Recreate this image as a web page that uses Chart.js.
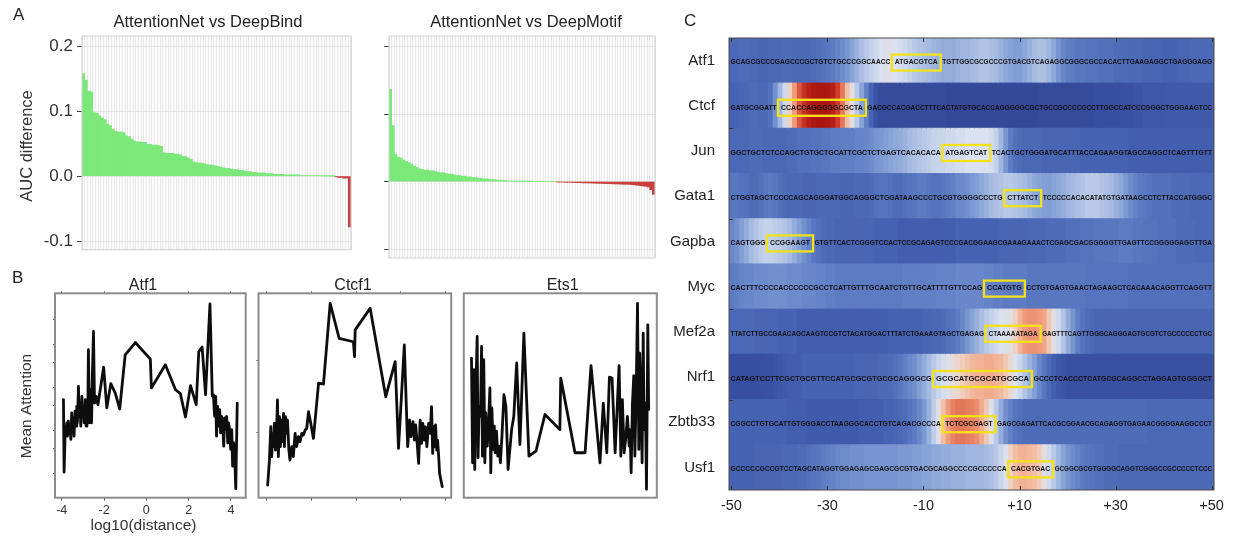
<!DOCTYPE html>
<html><head><meta charset="utf-8">
<script src="https://cdn.jsdelivr.net/npm/chart.js@4.4.1/dist/chart.umd.min.js"></script>
<style>
html,body{margin:0;padding:0;background:#fff;}
body{width:1234px;height:539px;position:relative;overflow:hidden;}
canvas{position:absolute;}
</style></head><body>
<canvas id="a1" width="360" height="264" style="left:0;top:0;width:360px;height:264px"></canvas>
<canvas id="a2" width="290" height="264" style="left:370px;top:0;width:290px;height:264px"></canvas>
<canvas id="b1" width="252" height="269" style="left:0;top:270px;width:252px;height:269px"></canvas>
<canvas id="b2" width="206" height="269" style="left:252px;top:270px;width:206px;height:269px"></canvas>
<canvas id="b3" width="210" height="269" style="left:458px;top:270px;width:210px;height:269px"></canvas>
<canvas id="c1" width="574" height="539" style="left:660px;top:0;width:574px;height:539px"></canvas>
<script>
// ---------------- DATA ----------------
// Panel A: AUC differences, sorted
const deepBindDiff = [0.158,0.148,0.131,0.130,0.098,0.097,0.093,0.090,0.087,0.080,
 0.078,0.072,0.069,0.068,0.068,0.067,0.062,0.061,0.057,0.054,
 0.053,0.053,0.052,0.052,0.049,0.049,0.048,0.048,0.047,0.046,
 0.036,0.035,0.035,0.035,0.034,0.034,0.033,0.030,0.030,0.028,
 0.026,0.022,0.021,0.020,0.020,0.019,0.018,0.017,0.017,0.016,
 0.015,0.014,0.013,0.012,0.012,0.011,0.010,0.010,0.009,0.009,
 0.008,0.007,0.007,0.006,0.006,0.005,0.005,0.005,0.004,0.004,
 0.004,0.003,0.003,0.003,0.003,0.002,0.002,0.002,0.002,0.002,
 0.002,0.001,0.001,0.001,0.001,0.001,0.001,0.001,0.0008,0.0006,
 0.0005,0.0004,0.0002,0.0001,-0.001,-0.002,-0.002,-0.003,-0.003,-0.078];
const deepMotifDiff = [0.137,0.083,0.040,0.036,0.035,0.032,0.030,0.028,0.026,0.023,
 0.021,0.019,0.018,0.017,0.017,0.016,0.016,0.015,0.014,0.013,
 0.013,0.012,0.011,0.011,0.010,0.009,0.009,0.008,0.008,0.007,
 0.007,0.006,0.006,0.005,0.005,0.004,0.004,0.0035,0.003,0.003,
 0.0025,0.002,0.002,0.0015,0.001,0.001,0.0008,0.0006,0.0004,0.0002,
 0.0001,0.0001,0.0001,0.0001,0,0,0,0,0,0,
 0,0,0,-0.0005,-0.0006,-0.0008,-0.001,-0.001,-0.0012,-0.0014,
 -0.0015,-0.0016,-0.0018,-0.002,-0.002,-0.002,-0.0022,-0.0024,-0.0025,-0.0026,
 -0.0028,-0.003,-0.003,-0.0032,-0.0034,-0.0035,-0.0036,-0.0038,-0.004,-0.004,
 -0.0042,-0.0045,-0.005,-0.0055,-0.006,-0.0065,-0.007,-0.008,-0.012,-0.019];
const aTicks = [-0.1, 0, 0.1, 0.2];

// Panel B: mean attention vs log10(distance)
const atf1X = [-3.92,-3.89,-3.84,-3.80,-3.76,-3.73,-3.69,-3.64,-3.61,-3.57,
 -3.53,-3.50,-3.45,-3.42,-3.37,-3.32,-3.29,-3.26,-3.21,-3.18,
 -3.13,-3.10,-3.05,-3.02,-2.97,-2.94,-2.89,-2.85,-2.81,-2.77,
 -2.74,-2.69,-2.64,-2.59,-2.55,-2.50,-2.45,-2.37,-2.29,-2.18,
 -2.02,-1.87,-1.68,-1.47,-1.26,-1.00,-0.52,0.19,0.24,0.90,
 1.38,1.61,1.85,2.09,2.36,2.48,2.64,2.80,3.01,3.12,
 3.17,3.23,3.28,3.32,3.37,3.42,3.47,3.51,3.56,3.61,
 3.66,3.70,3.75,3.80,3.85,3.89,3.94,3.99,4.04,4.08,
 4.13,4.18,4.23,4.30];
const atf1Y = [48.0,12.5,31.7,33.3,36.6,30.1,37.4,31.7,35.0,28.5,
 41.5,33.3,39.0,30.1,42.3,35.0,44.7,36.6,54.5,39.8,
 44.7,35.0,49.6,39.8,43.1,36.6,48.0,35.0,45.5,39.8,
 72.4,36.6,52.8,36.6,61.0,81.3,46.3,49.6,45.5,52.8,
 63.9,43.9,55.8,51.2,43.4,69.9,75.9,67.8,53.7,65.0,
 52.8,50.9,39.5,54.8,45.5,71.5,73.7,50.4,94.8,49.6,
 50.4,39.8,49.6,30.1,44.7,35.0,43.1,31.7,39.8,36.6,
 25.2,39.0,33.3,39.8,26.8,36.6,33.3,23.6,33.3,15.4,
 26.8,20.3,4.4,46.3];
const ctcf1X = [-3.96,-3.88,-3.82,-3.78,-3.73,-3.70,-3.66,-3.61,-3.57,-3.52,
 -3.48,-3.43,-3.39,-3.34,-3.30,-3.25,-3.21,-3.16,-3.12,-3.07,
 -3.01,-2.96,-2.88,-2.81,-2.73,-2.66,-2.58,-2.51,-2.43,-2.36,
 -2.28,-2.21,-2.13,-2.03,-1.91,-1.68,-1.46,-1.16,-0.76,-0.12,
 -0.07,-0.04,0.63,1.33,1.75,1.90,2.16,2.31,2.40,2.46,
 2.55,2.61,2.67,2.73,2.80,2.87,2.93,2.99,3.05,3.11,
 3.17,3.25,3.32,3.38,3.43,3.47,3.52,3.56,3.61,3.65,
 3.70,3.74,3.80,3.86];
const ctcf1Y = [6.2,18.4,34.7,20.1,31.5,25.0,36.4,23.3,28.2,47.8,
 20.1,39.6,25.0,38.0,27.4,41.3,25.0,39.6,31.5,38.0,
 23.3,18.4,25.0,20.1,31.5,25.0,29.9,27.4,31.5,30.7,
 33.1,33.9,42.1,36.4,29.0,56.0,55.6,95.1,78.0,76.3,
 69.0,82.1,92.7,49.4,66.6,24.1,74.7,25.0,38.0,29.9,
 37.2,28.2,35.6,27.4,16.8,38.0,26.6,36.4,28.2,34.7,
 25.0,36.4,31.5,44.5,21.7,34.7,25.0,35.6,23.3,28.2,
 20.1,11.9,8.6,5.4];
const ets1X = [-4.05,-4.00,-3.94,-3.90,-3.85,-3.79,-3.75,-3.70,-3.64,-3.59,
 -3.55,-3.49,-3.44,-3.40,-3.33,-3.27,-3.21,-3.17,-3.12,-3.06,
 -3.01,-2.97,-2.91,-2.85,-2.79,-2.73,-2.66,-2.57,-2.48,-2.38,
 -2.22,-2.12,-1.99,-1.84,-1.66,-1.43,-1.11,-0.70,-0.02,0.02,
 0.67,1.13,1.40,1.81,1.96,2.12,2.24,2.36,2.50,2.68,
 2.76,2.83,2.91,2.98,3.06,3.14,3.18,3.23,3.29,3.35,
 3.40,3.46,3.52,3.58,3.62,3.68,3.73,3.78,3.82,3.88,
 3.93,3.99,4.03];
const ets1Y = [68.3,17.1,62.6,13.8,52.8,78.9,19.5,44.7,39.8,74.0,
 20.3,67.5,17.1,41.5,25.2,36.6,53.7,12.2,43.9,23.6,
 35.0,22.0,32.5,20.3,25.2,17.1,30.1,50.4,44.7,13.8,
 33.3,39.8,65.9,26.0,80.5,20.3,22.8,40.7,33.3,58.5,
 22.0,22.0,64.6,17.1,46.3,22.0,59.0,58.5,22.0,64.6,
 20.3,48.0,22.0,28.5,39.8,25.2,33.3,12.2,46.3,59.7,
 20.3,51.2,95.1,23.6,70.7,48.0,17.1,80.5,33.3,46.3,
 4.1,84.6,43.1];
const bTicks = [-4, -2, 0, 2, 4];

// Panel C: attention per position (-50..+50), scale 0-100
const heatRowLabels = ['Atf1','Ctcf','Jun','Gata1','Gapba','Myc','Mef2a','Nrf1','Zbtb33','Usf1'];
const heatTicks = [-50, -30, -10, 10, 30, 50];
const atf1Att = [22,22,23,23,22,22,21,21,22,22, 22,23,23,22,22,22,22,23,24,25, 26,27,29,31,33,36,39,42,44,46, 48,50,51,51,50,49,48,46,44,43, 42,41,40,39,38,38,38,39,40,40, 41,42,43,43,42,41,39,37,36,35, 35,37,39,41,42,42,40,37,33,30, 28,27,26,26,25,25,25,24,24,24, 23,23,23,22,22,22,21,21,21,21, 20,20,20,21,21,21,22,22,22,22,22];
const ctcfAtt = [20,20,21,22,23,23,22,22,24,32, 40,48,56,66,78,88,95,98,99,99, 98,95,85,72,60,52,44,36,28,20, 15,13,13,13,13,13,13,13,13,13, 13,13,13,13,13,12,12,12,12,12, 12,12,12,12,12,12,12,12,12,12, 12,12,12,12,13,13,13,13,13,13, 13,13,13,13,13,13,14,14,14,14, 14,14,15,15,16,16,17,17,17,17, 17,18,18,18,18,18,18,18,18,18,18];
const junAtt = [22,22,22,22,23,23,23,22,22,22, 22,22,23,23,24,24,24,25,25,26, 26,27,27,28,28,28,29,29,30,31, 33,34,35,36,37,38,39,41,42,43, 44,45,46,47,47,48,48,49,49,50, 50,50,50,50,49,46,40,33,27,24, 23,22,22,22,22,21,21,21,21,21, 21,21,21,20,20,20,20,20,20,20, 20,20,20,19,19,19,19,19,19,19, 19,19,19,19,19,19,19,19,19,19,19];
const gata1Att = [26,26,25,24,23,23,24,26,27,26, 24,23,22,22,22,21,21,21,22,22, 22,22,22,21,21,21,22,22,22,23, 24,25,25,24,23,23,24,25,26,27, 27,26,25,25,26,27,28,30,31,32, 34,35,37,39,41,42,43,44,44,43, 42,41,39,37,36,35,35,36,37,38, 40,41,42,43,44,44,44,43,42,41, 39,37,34,31,29,27,26,25,24,24, 24,24,23,23,23,23,22,22,22,22,22];
const gapbaAtt = [30,32,35,38,41,43,45,46,46,45, 44,43,41,38,35,32,29,26,24,23, 22,22,21,21,21,21,21,21,21,21, 20,20,20,20,20,19,19,19,19,19, 19,19,19,19,19,19,19,20,20,20, 20,20,20,20,20,20,21,21,21,21, 21,21,22,22,22,22,23,23,23,23, 24,24,24,25,25,25,26,26,26,26, 26,27,27,27,26,26,25,25,25,24, 24,24,24,23,23,23,23,22,22,22,22];
const mycAtt = [27,28,29,30,30,31,31,31,32,32, 32,32,31,31,31,30,30,30,29,29, 28,28,27,27,27,27,27,27,27,27, 27,27,27,27,27,27,28,28,28,28, 28,28,28,29,29,29,29,30,30,30, 30,30,30,29,29,28,28,27,27,27, 27,27,26,26,26,26,26,26,26,26, 26,26,26,26,25,25,25,25,25,25, 25,25,25,24,24,24,24,24,24,24, 24,24,24,24,24,24,24,24,24,24,24];
const mef2aAtt = [22,22,22,22,22,21,21,21,21,21, 20,20,20,20,19,19,19,19,19,19, 19,19,19,19,19,19,19,19,19,19, 19,19,19,20,20,20,20,20,20,20, 21,21,22,22,23,24,25,27,30,33, 36,39,42,44,46,48,50,51,52,56, 62,66,67,67,66,64,58,52,48,43, 38,33,28,25,23,22,21,21,21,21, 21,21,21,21,21,21,21,21,21,21, 21,21,21,21,21,21,21,21,21,21,21];
const nrf1Att = [14,14,14,14,14,14,14,15,15,16, 17,18,19,19,19,20,20,20,20,20, 20,20,20,20,20,20,21,21,21,21, 21,22,22,23,24,26,28,30,32,35, 38,41,44,47,49,51,53,55,57,59, 61,62,62,63,63,62,61,58,54,50, 47,43,39,35,30,26,22,19,17,16, 15,15,15,15,15,15,15,15,15,15, 15,15,15,15,15,15,15,15,15,15, 15,15,15,15,15,15,15,15,15,15,15];
const zbtb33Att = [20,20,20,20,20,20,20,20,20,20, 20,20,19,19,19,19,18,18,18,18, 18,18,18,18,18,18,18,19,19,19, 19,19,20,20,21,22,23,25,27,30, 34,39,45,52,60,66,70,72,72,71, 70,68,63,58,51,44,38,32,28,25, 24,23,23,23,23,23,23,23,23,23, 23,23,23,23,23,23,23,23,23,23, 23,23,23,23,23,23,23,22,22,22, 22,22,22,22,22,22,22,22,22,22,22];
const usf1Att = [20,20,20,20,20,21,21,21,21,21, 21,22,22,22,23,23,24,25,26,27, 28,29,30,31,31,32,32,32,33,33, 33,33,33,33,33,34,34,34,35,35, 36,36,37,37,38,38,39,39,39,40, 40,40,40,41,42,44,47,51,56,60, 62,62,61,60,57,52,48,44,40,36, 33,31,29,27,26,25,24,24,23,23, 23,22,22,22,22,22,22,22,22,22, 22,22,22,22,22,22,22,22,22,22,22];
const heatRows = [atf1Att, ctcfAtt, junAtt, gata1Att, gapbaAtt, mycAtt, mef2aAtt, nrf1Att, zbtb33Att, usf1Att];
const seqBefore = ['GCAGCGCCCGAGCCCGCTGTCTGCCCGGCAACC','GATGCGGATT','GGCTGCTCTCCAGCTGTGCTGCATTCGCTCTGAGTCACACACA','CTGGTAGCTCCCCAGCAGGGATGGCAGGGCTGGATAAGCCCTGCGTGGGGCCCTG','CAGTGGG','CACTTTCCCCACCCCCCGCCTCATTGTTTGCAATCTGTTGCATTTTGTTCCAG','TTATCTTGCCGAACAGCAAGTCCGTCTACATGGACTTTATCTGAAAGTAGCTGAGAG','CATAGTCCTTCGCTGCGTTCCATGCGCGTGCGCAGGGCG','CGGCCTGTGCATTGTGGGACCTAAGGGCACCTGTCAGACGCCCA','GCCCCCGCCGTCCTAGCATAGGTGGAGAGCGAGCGCGTGACGCAGGCCCCGCCCCCA'];
const seqMotif = ['ATGACGTCA','CCACCAGGGGGCGCTA','ATGAGTCAT','CTTATCT','CCGGAAGT','CCATGTG','CTAAAAATAGA','GCGCATGCGCATGCGCA','TCTCGCGAGT','CACGTGAC'];
const seqAfter = ['TGTTGGCGCGCCCGTGACGTCAGAGGCGGGCGCCACACTTGAAGAGGCTGAGGGAGG','GACGCCACGACCTTTCACTATGTGCACCAGGGGGCGCTGCCGCCCCGCCTTGGCCATCCCGGGCTGGGAAGTCC','TCACTGCTGGGATGCATTTACCAGAAGGTAGCCAGGCTCAGTTTGTT','TCCCCCACACATATGTGATAAGCCTCTTACCATGGGC','GTGTTCACTCGGGTCCACTCCGCAGAGTCCCGACGGAAGCGAAAGAAACTCGAGCGACGGGGGTTGAGTTCCGGGGGAGGTTGA','CCTGTGAGTGAACTAGAAGCTCACAAACAGGTTCAGGTT','GAGTTTCAGTTGGGCAGGGAGTGCGTCTGCCCCCCTGC','GCCCTCACCCTCATGCGCAGGCCTAGGAGTGGGGCT','GAGCGAGATTCACGCGGAACGCAGAGGTGAGAACGGGGAAGGCCCT','GCGGCGCGTGGGGCAGGTCGGGCCGCCCCCTCCC'];
// motif box extent on the position axis (start, end)
const motifStart = [-16.6, -40.3, -6.1, 6.8, -42.6, 2.6, 2.9, -8.0, -6.1, 7.6];
const motifEnd   = [ -6.4, -22.0,  3.9, 14.5, -33.0, 11.1, 14.4, 12.6, 5.0, 17.0];

// ---------------- STYLE / HELPERS ----------------
const FONT = '"Liberation Sans", Arial, Helvetica, sans-serif';
const GREEN = '#7de87a', RED = '#c9403f';
Chart.defaults.font.family = FONT;
Chart.defaults.animation = false;

function textsPlugin(items){
  return { id:'texts'+Math.random().toString(36).slice(2), afterDraw(chart){
    const ctx = chart.ctx;
    items.forEach(it=>{
      ctx.save();
      ctx.font = it.font; ctx.fillStyle = it.color || '#222';
      ctx.textAlign = it.align || 'center'; ctx.textBaseline = it.baseline || 'alphabetic';
      ctx.translate(it.x, it.y); if (it.rotate) ctx.rotate(it.rotate);
      ctx.fillText(it.text, 0, 0); ctx.restore();
    });
  }};
}
function framePlugin(o){
  return { id:'frame'+Math.random().toString(36).slice(2),
    beforeDraw(chart){ if(!o.fill) return; const a=chart.chartArea, ctx=chart.ctx;
      ctx.save(); ctx.fillStyle=o.fill; ctx.fillRect(a.left,a.top,a.right-a.left,a.bottom-a.top); ctx.restore(); },
    afterDraw(chart){ const a=chart.chartArea, ctx=chart.ctx;
      ctx.save(); ctx.strokeStyle=o.color; ctx.lineWidth=o.width;
      ctx.strokeRect(a.left,a.top,a.right-a.left,a.bottom-a.top); ctx.restore(); }
  };
}
const fixedTicks = arr => (s => { s.ticks = arr.map(v => ({value:v})); });

function aChart(id, values, opts){
  new Chart(document.getElementById(id), {
    type:'bar',
    data:{ labels: values.map((_,i)=>i+1),
      datasets:[{ data: values, backgroundColor: values.map(v => v >= 0 ? GREEN : RED),
        barPercentage:1, categoryPercentage:1, borderWidth:0, inflateAmount:0.35 }]},
    options:{ responsive:false, devicePixelRatio:1,
      layout:{ padding:{ top:36, right:opts.padR, bottom:6, left:0 } },
      plugins:{ legend:{display:false}, tooltip:{enabled:false} },
      scales:{
        x:{ grid:{ color:'#ebebeb', drawTicks:false, offset:true }, border:{display:false},
            ticks:{display:false}, afterFit(s){ s.height = 0; } },
        y:{ min:-0.1133, max:0.2158, afterBuildTicks: fixedTicks(aTicks),
            grid:{ color:'#e3e3e3', tickColor:'#444', tickLength:5 }, border:{display:false},
            ticks:{ display:opts.labels, font:{size:17}, color:'#333', padding:4,
                    callback: v => (+v).toFixed(1) },
            afterFit(s){ s.width = opts.yW; } }
      }
    },
    plugins:[ framePlugin({fill:'#fbfbfb', color:'#cfcfcf', width:1}), textsPlugin(opts.texts) ]
  });
}

aChart('a1', deepBindDiff, { padR:9, yW:82, labels:true, texts:[
  {text:'A', x:13, y:20, font:'17px '+FONT, align:'left', color:'#222'},
  {text:'AttentionNet vs DeepBind', x:208, y:27, font:'16.5px '+FONT, color:'#222'},
  {text:'AUC difference', x:32, y:146, font:'16.5px '+FONT, color:'#333', rotate:-Math.PI/2}
]});
aChart('a2', deepMotifDiff, { padR:5, yW:19, labels:false, texts:[
  {text:'AttentionNet vs DeepMotif', x:156, y:27, font:'16.5px '+FONT, color:'#222'}
]});

function bChart(id, xs, ys, o){
  const pts = xs.map((x,i)=>({x, y:ys[i]}));
  const hasX = o.xticks.length > 0;
  new Chart(document.getElementById(id), {
    type:'scatter',
    data:{ datasets:[{ data:pts, showLine:true, borderColor:'#0d0d0d', borderWidth:2.8,
      pointRadius:0, tension:0, borderJoinStyle:'round', borderCapStyle:'round' }]},
    options:{ responsive:false, devicePixelRatio:1,
      layout:{ padding:{ top:0, right:o.padR, bottom:0, left:0 } },
      plugins:{ legend:{display:false}, tooltip:{enabled:false} },
      scales:{
        x:{ type:'linear', position:'bottom', min:o.xmin, max:o.xmax, afterBuildTicks: fixedTicks(o.xticks),
            grid:{ display:hasX, drawOnChartArea:false, tickLength:3, tickColor:'#555' }, border:{display:false},
            ticks:{ display:o.xlabels, font:{size:12.5}, color:'#333', padding:2 },
            afterFit(s){ s.height = 41.3; } },
        xt:{ type:'linear', position:'top', min:o.xmin, max:o.xmax, afterBuildTicks: fixedTicks(o.xticks),
            grid:{ display:hasX, drawOnChartArea:false, tickLength:2, tickColor:'#555' }, border:{display:false},
            ticks:{ display:false }, afterFit(s){ s.height = 23.3; } },
        y:{ min:0, max:100, afterBuildTicks: fixedTicks(o.yticks),
            grid:{ display:o.yticks.length>0, drawOnChartArea:false, tickLength:2, tickColor:'#555' }, border:{display:false},
            ticks:{ display:false }, afterFit(s){ s.width = o.yW; } }
      }
    },
    plugins:[ framePlugin({color:'#8c8c8c', width:2}), textsPlugin(o.texts) ]
  });
}

bChart('b1', atf1X, atf1Y, { xmin:-4.32, xmax:4.70, xticks:bTicks, xlabels:true, yticks:[12,24,33,45,54,66,75,87],
  yW:55, padR:6.3, texts:[
    {text:'B', x:12, y:13.3, font:'17px '+FONT, align:'left'},
    {text:'Atf1', x:143, y:20, font:'16px '+FONT},
    {text:'log10(distance)', x:143.5, y:260, font:'15.5px '+FONT, color:'#333'},
    {text:'Mean Attention', x:31, y:136, font:'15.5px '+FONT, color:'#333', rotate:-Math.PI/2}
]});
bChart('b2', ctcf1X, ctcf1Y, { xmin:-4.37, xmax:4.26, xticks:bTicks, xlabels:false, yticks:[32,67],
  yW:6.5, padR:6.8, texts:[ {text:'Ctcf1', x:101, y:20, font:'16px '+FONT} ]});
bChart('b3', ets1X, ets1Y, { xmin:-4.4, xmax:4.4, xticks:[], xlabels:false, yticks:[],
  yW:5.8, padR:11.2, texts:[ {text:'Ets1', x:104.7, y:20, font:'16px '+FONT} ]});

// ---------------- PANEL C: heatmap ----------------
const cmapStops = [[0,[40,55,135]],[10,[50,68,150]],[15,[58,80,162]],[20,[70,98,178]],[25,[85,115,190]],
 [30,[105,135,202]],[35,[130,158,212]],[40,[160,182,224]],[45,[190,205,232]],[50,[218,225,240]],
 [55,[238,214,204]],[60,[242,190,165]],[65,[240,160,130]],[70,[232,130,100]],[75,[222,100,75]],
 [85,[205,60,45]],[95,[182,30,22]],[100,[170,20,15]]];
function heatColor(v){
  for (let k=1;k<cmapStops.length;k++){
    const [v1,c1]=cmapStops[k-1],[v2,c2]=cmapStops[k];
    if (v<=v2){ const t=(v-v1)/(v2-v1); return 'rgb('+c1.map((c,j)=>Math.round(c+(c2[j]-c)*t)).join(',')+')'; }
  }
  return 'rgb(170,20,15)';
}
const positions = atf1Att.map((_,j)=>j-50);
const heatDatasets = positions.map((p,j)=>({
  data: heatRows.map(()=>[p-0.5, p+0.5]),
  backgroundColor: heatRows.map(r=>heatColor(r[j])),
  grouped:false, barPercentage:1, categoryPercentage:1, borderWidth:0, inflateAmount:0.6
}));
function fitText(ctx, txt, x0, x1, cy){
  const w = ctx.measureText(txt).width; if (w <= 0 || x1 <= x0) return;
  const sx = Math.min(1.25, Math.max(0.75, (x1 - x0) / w));
  ctx.save(); ctx.translate(x0, cy); ctx.scale(sx, 1); ctx.fillText(txt, 0, 0); ctx.restore();
}
const seqPlugin = { id:'seqs', afterDatasetsDraw(chart){
  const {ctx, chartArea:a, scales:{x, y}} = chart;
  ctx.save();
  ctx.beginPath(); ctx.rect(a.left,a.top,a.right-a.left,a.bottom-a.top); ctx.clip();
  ctx.font = 'bold 6.5px '+FONT; ctx.textBaseline='middle'; ctx.textAlign='left';
  heatRowLabels.forEach((_,i)=>{
    const cy = y.getPixelForValue(i) + 2;
    const bx = x.getPixelForValue(motifStart[i]), bx2 = x.getPixelForValue(motifEnd[i]);
    ctx.fillStyle = '#121212';
    fitText(ctx, seqBefore[i], a.left + 1.5, bx - 1.5, cy);
    fitText(ctx, seqMotif[i], bx + 3, bx2 - 3, cy);
    fitText(ctx, seqAfter[i], bx2 + 1.5, a.right - 2, cy);
    ctx.strokeStyle = '#f3e21b'; ctx.lineWidth = 2.3; ctx.strokeRect(bx, cy-8, bx2-bx, 16);
  });
  ctx.strokeStyle='#333'; ctx.lineWidth=1;
  heatTicks.forEach(v=>{ const tx=Math.round(x.getPixelForValue(v))+0.5;
    ctx.beginPath(); ctx.moveTo(tx,a.top); ctx.lineTo(tx,a.top+4); ctx.moveTo(tx,a.bottom); ctx.lineTo(tx,a.bottom-4); ctx.stroke(); });
  [1,3,5,7].forEach(i=>{ const ty=Math.round((y.getPixelForValue(i)+y.getPixelForValue(i+1))/2)+0.5;
    ctx.beginPath(); ctx.moveTo(a.left,ty); ctx.lineTo(a.left+4,ty); ctx.stroke(); });
  ctx.restore();
}};
new Chart(document.getElementById('c1'), {
  type:'bar',
  data:{ labels: heatRowLabels, datasets: heatDatasets },
  options:{ indexAxis:'y', responsive:false, devicePixelRatio:1,
    layout:{ padding:{ top:38, right:20, bottom:0, left:0 } },
    plugins:{ legend:{display:false}, tooltip:{enabled:false} },
    scales:{
      x:{ type:'linear', min:-50.5, max:50.5, afterBuildTicks: fixedTicks(heatTicks),
          grid:{ display:false, drawTicks:false }, border:{display:false},
          ticks:{ font:{size:14.5}, color:'#222', padding:7, autoSkip:false, maxRotation:0,
                  callback: v => v > 0 ? '+'+v : ''+v },
          afterFit(s){ s.height = 49; } },
      y:{ type:'category', grid:{ display:false, drawTicks:false }, border:{display:false},
          ticks:{ font:{size:15}, color:'#222', padding:14 }, afterFit(s){ s.width = 69; } }
    }
  },
  plugins:[ seqPlugin, framePlugin({color:'#4a4a4a', width:1}),
    textsPlugin([{text:'C', x:24, y:26, font:'17px '+FONT, align:'left'}]) ]
});
</script>
</body></html>
